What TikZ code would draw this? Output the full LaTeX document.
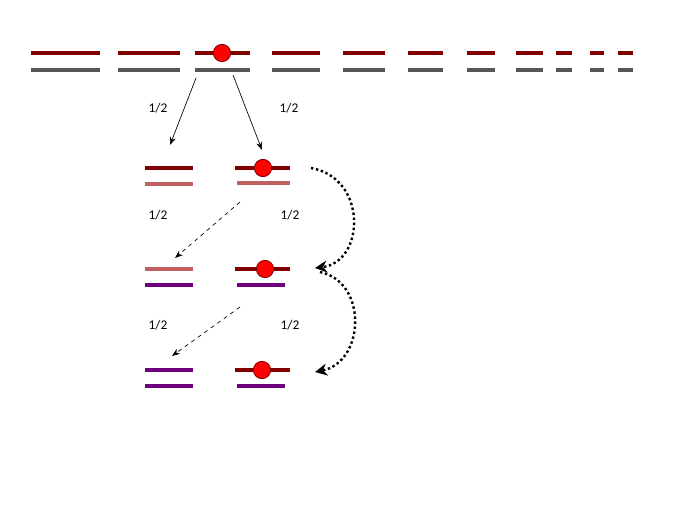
\documentclass[tikz,border=0pt]{standalone}
\usepackage{fontspec}
\setmainfont{Carlito}
\usetikzlibrary{arrows.meta}
\definecolor{dred}{RGB}{128,0,0}
\definecolor{gry}{RGB}{85,85,90}
\definecolor{rosy}{RGB}{192,96,96}
\definecolor{purp}{RGB}{112,0,128}
\begin{document}
\begin{tikzpicture}[x=0.75pt,y=-0.75pt,
  seg/.style={line width=2.6pt},
  ball/.style={circle,fill=red,draw=dred,line width=0.6pt,minimum size=13pt,inner sep=0pt},
  lbl/.style={font=\normalsize},
  arr/.style={-{Stealth[length=6pt]},line width=0.5pt},
  darr/.style={-{Stealth[length=6pt]},dashed,line width=0.5pt},
  carr/.style={-{Stealth[length=9pt,width=9pt]},dotted,line width=1.8pt}]
\useasboundingbox (0,0) rectangle (689,517);
\foreach \a/\b in {31/100,118/180,195/250,272/320,343/385,408/443,467/495,516/543,556/572,590/604,618/633}{
  \draw[seg,dred] (\a,53) -- (\b,53);
  \draw[seg,gry] (\a,70) -- (\b,70);
}
\node[ball] (b0) at (222,53) {};
% row 1
\draw[seg,dred] (145,168) -- (193,168);
\draw[seg,rosy] (145,184) -- (193,184);
\draw[seg,dred] (235,168) -- (290,168);
\draw[seg,rosy] (237,183) -- (290,183);
\node[ball] (b1) at (263,168) {};
% row 2
\draw[seg,rosy] (145,269) -- (193,269);
\draw[seg,purp] (145,285) -- (193,285);
\draw[seg,dred] (235,269) -- (290,269);
\draw[seg,purp] (237,285) -- (285,285);
\node[ball] (b2) at (265,269) {};
% row 3
\draw[seg,purp] (145,370) -- (193,370);
\draw[seg,purp] (145,386) -- (193,386);
\draw[seg,dred] (235,370) -- (290,370);
\draw[seg,purp] (237,386) -- (285,386);
\node[ball] (b3) at (262,370) {};
% coordinates
\coordinate (s1) at (196,78); \coordinate (e1) at (170,145);
\coordinate (s2) at (233,75); \coordinate (e2) at (262,150);
\coordinate (s3) at (240,202); \coordinate (e3) at (175,258);
\coordinate (s4) at (240,307); \coordinate (e4) at (172,356);
\coordinate (c1) at (311,168); \coordinate (c2) at (315,268);
\coordinate (c3) at (320,272); \coordinate (c4) at (315,372);
\draw[arr] (s1) -- (e1);
\draw[arr] (s2) -- (e2);
\draw[darr] (s3) -- (e3);
\draw[darr] (s4) -- (e4);
\draw[carr] (c1) .. controls (368,178) and (365,262) .. (c2);
\draw[carr] (c3) .. controls (368,282) and (365,362) .. (c4);
\node[lbl] (l1) at (158,108) {1/2};
\node[lbl] (l2) at (289,108) {1/2};
\node[lbl] (l3) at (158,215) {1/2};
\node[lbl] (l4) at (290,215) {1/2};
\node[lbl] (l5) at (158,325) {1/2};
\node[lbl] (l6) at (290,325) {1/2};
\end{tikzpicture}
\end{document}
